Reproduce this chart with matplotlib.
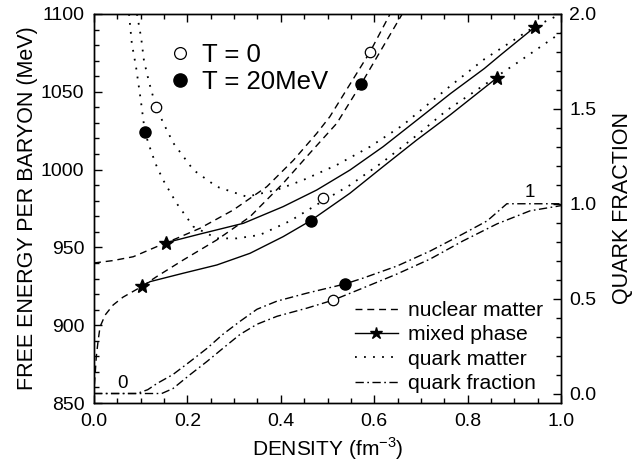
import numpy as np
import matplotlib
matplotlib.use("Agg")
import matplotlib.pyplot as plt
from matplotlib.lines import Line2D
from matplotlib.ticker import MultipleLocator, FormatStrFormatter

plt.rcParams['font.family'] = ['Liberation Sans', 'DejaVu Sans']
plt.rcParams['mathtext.fontset'] = 'custom'
plt.rcParams['mathtext.rm'] = 'Liberation Sans'

# nuclear matter, T = 0 and T = 20 MeV (density fm^-3, MeV)
nuc0_x = [0.0, 0.04, 0.084, 0.154, 0.177, 0.227, 0.298, 0.37, 0.427, 0.477,
          0.505, 0.591, 0.634]
nuc0_e = [940, 941.5, 944, 953, 955.8, 962.3, 974, 989, 1006, 1023.3,
          1034, 1075.6, 1100]
nuc20_x = [0.001, 0.005, 0.009, 0.013, 0.024, 0.041, 0.062, 0.103, 0.134, 0.191,
           0.263, 0.334, 0.405, 0.462, 0.52, 0.572, 0.66]
nuc20_e = [862, 880, 890.5, 899, 906.6, 913, 918, 925, 931.2, 941.9,
           954.8, 969.7, 991.2, 1010.5, 1029.8, 1055, 1100]

# mixed phase
mix0_x = [0.154, 0.227, 0.32, 0.405, 0.477, 0.548, 0.619, 0.705, 0.764, 0.836,
          0.872, 0.944]
mix0_e = [953, 958.6, 965.5, 976.2, 986.9, 999.7, 1014.7, 1035, 1049, 1065,
          1074, 1091.6]
mix20_x = [0.103, 0.12, 0.191, 0.263, 0.334, 0.405, 0.464, 0.548, 0.619, 0.691,
           0.762, 0.863]
mix20_e = [925, 928, 933.4, 938.7, 946.2, 956.9, 967.2, 984.8, 1001.9, 1019,
           1035, 1059]

# quark matter
qm0_x = [0.092, 0.101, 0.107, 0.118, 0.133, 0.150, 0.17, 0.213, 0.263, 0.327,
         0.391, 0.448, 0.52, 0.591, 0.662, 0.691, 0.764, 0.836, 0.908, 0.944, 1.0]
qm0_e = [1100, 1084.6, 1070, 1056, 1040, 1029, 1017, 999.7, 989, 982.6,
         986.9, 993.3, 1003, 1014.7, 1028.7, 1036, 1054, 1071, 1085, 1092, 1100]
qm20_x = [0.075, 0.081, 0.09, 0.1, 0.109, 0.122, 0.133, 0.148, 0.177, 0.213,
          0.263, 0.306, 0.355, 0.42, 0.491, 0.548, 0.619, 0.691, 0.755, 0.863,
          0.908, 1.0]
qm20_e = [1100, 1081, 1066, 1045, 1024, 1012, 1003, 993.3, 978.3, 963.3,
          955.8, 955.8, 958, 967, 980, 990, 1005, 1022, 1038, 1060,
          1069, 1088]

# quark fraction (right axis)
qf0_x = [0.0, 0.145, 0.169, 0.206, 0.242, 0.276, 0.313, 0.349, 0.392, 0.456,
         0.512, 0.576, 0.649, 0.72, 0.79, 0.863, 0.934, 1.0]
qf0_y = [0.0, 0.0, 0.026, 0.1, 0.169, 0.238, 0.312, 0.365, 0.407, 0.45,
         0.492, 0.556, 0.63, 0.709, 0.804, 0.894, 0.963, 0.99]
qf20_x = [0.0, 0.092, 0.115, 0.135, 0.169, 0.206, 0.242, 0.276, 0.313, 0.349,
          0.392, 0.456, 0.537, 0.576, 0.649, 0.72, 0.79, 0.842, 0.884, 1.0]
qf20_y = [0.0, 0.0, 0.02, 0.053, 0.10, 0.169, 0.238, 0.312, 0.381, 0.444,
          0.487, 0.529, 0.577, 0.608, 0.672, 0.751, 0.841, 0.91, 1.0, 1.0]

# phase boundaries (stars) and marked points
star_x = [0.154, 0.944, 0.103, 0.863]
star_e = [953, 1091.6, 925, 1059]
open_x = [0.133, 0.591, 0.491]
open_e = [1040, 1075.6, 981.6]
fill_x = [0.109, 0.572, 0.464]
fill_e = [1024, 1055, 967.2]
open_qx, open_qy = [0.512], [0.492]
fill_qx, fill_qy = [0.537], [0.577]

dash = (0, (5, 3.5))
dot = (0, (1, 4))
dashdot = (0, (6, 2.5, 1.2, 2.5))
lw = 1.0

fig = plt.figure(figsize=(6.37, 4.61), dpi=100)
ax = fig.add_axes([94 / 637, 58 / 461, 467 / 637, 389 / 461])
ax2 = ax.twinx()

ax.plot(nuc0_x, nuc0_e, color='k', lw=lw, ls=dash)
ax.plot(nuc20_x, nuc20_e, color='k', lw=lw, ls=dash)
ax.plot(mix0_x, mix0_e, color='k', lw=lw)
ax.plot(mix20_x, mix20_e, color='k', lw=lw)
ax.plot(qm0_x, qm0_e, color='k', lw=1.3, ls=dot)
ax.plot(qm20_x, qm20_e, color='k', lw=1.3, ls=dot)
ax.plot(star_x, star_e, ls='none', marker='*', ms=10.5, color='k')
ax.plot(open_x, open_e, ls='none', marker='o', ms=7.5, mfc='white', mec='k', mew=0.9)
ax.plot(fill_x, fill_e, ls='none', marker='o', ms=8, color='k')

ax2.plot(qf0_x, qf0_y, color='k', lw=lw, ls=dashdot)
ax2.plot(qf20_x, qf20_y, color='k', lw=lw, ls=dashdot)
ax2.plot(open_qx, open_qy, ls='none', marker='o', ms=7.5, mfc='white', mec='k', mew=0.9)
ax2.plot(fill_qx, fill_qy, ls='none', marker='o', ms=8, color='k')
ax2.text(0.062, 0.055, '0', fontsize=13.5, ha='center', va='center')
ax2.text(0.934, 1.06, '1', fontsize=13.5, ha='center', va='center')

ax.set_xlim(0, 1.0)
ax.set_ylim(850, 1100)
ax2.set_ylim(-0.05, 2.0)

ax.xaxis.set_major_locator(MultipleLocator(0.2))
ax.xaxis.set_minor_locator(MultipleLocator(0.05))
ax.yaxis.set_major_locator(MultipleLocator(50))
ax.yaxis.set_minor_locator(MultipleLocator(10))
ax2.yaxis.set_major_locator(MultipleLocator(0.5))
ax2.yaxis.set_minor_locator(MultipleLocator(0.1))
ax.xaxis.set_major_formatter(FormatStrFormatter('%.1f'))
ax2.yaxis.set_major_formatter(FormatStrFormatter('%.1f'))

ax.tick_params(which='both', direction='in', top=True, right=False, labelsize=14, width=1)
ax.tick_params(which='major', length=6, pad=7)
ax.tick_params(which='minor', length=3.5)
ax2.tick_params(which='both', direction='in', labelsize=14, width=1)
ax2.tick_params(which='major', length=6, pad=6)
ax2.tick_params(which='minor', length=3.5)
for a in (ax, ax2):
    for s in a.spines.values():
        s.set_linewidth(1.0)

ax.set_xlabel('DENSITY (fm$^{-3}$)', fontsize=15, labelpad=4)
ax.set_ylabel('FREE ENERGY PER BARYON (MeV)', fontsize=15.5, labelpad=2)
ax2.set_ylabel('QUARK FRACTION', fontsize=15.5, labelpad=11)

handles = [Line2D([], [], color='k', lw=lw, ls=dash),
           Line2D([], [], color='k', lw=lw, marker='*', ms=9),
           Line2D([], [], color='k', lw=1.3, ls=dot),
           Line2D([], [], color='k', lw=lw, ls=dashdot)]
labels = ['nuclear matter', 'mixed phase', 'quark matter', 'quark fraction']
leg = ax2.legend(handles, labels, loc='lower right', bbox_to_anchor=(0.993, -0.012),
                 frameon=False, fontsize=15.2, handlelength=2.04, handletextpad=0.47,
                 labelspacing=0.25, borderpad=0.2, numpoints=1)
ax2.add_artist(leg)

thandles = [Line2D([], [], ls='none', marker='o', ms=8.5, mfc='white', mec='k', mew=0.9),
            Line2D([], [], ls='none', marker='o', ms=9.5, color='k')]
ax2.legend(thandles, ['T = 0', 'T = 20MeV'], loc='upper left',
           bbox_to_anchor=(0.108, 0.985), frameon=False, fontsize=18.5,
           handlelength=1.0, handletextpad=0.35, labelspacing=0.1)

fig.savefig('out.png', dpi=100)
